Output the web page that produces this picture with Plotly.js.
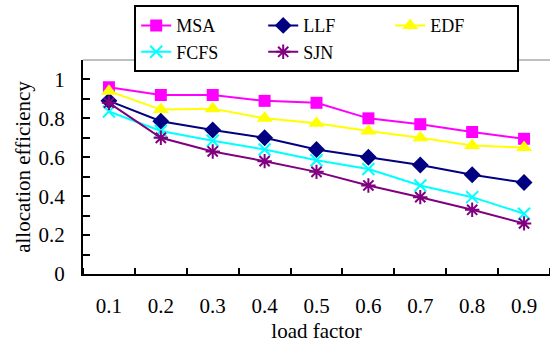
<!DOCTYPE html>
<html>
<head>
<meta charset="utf-8">
<script src="https://cdn.plot.ly/plotly-3.0.1.min.js"></script>
<style>html,body{margin:0;padding:0;background:#fff;}#chart{width:550px;height:347px;}</style>
</head>
<body>
<div id="chart"></div>
<script>
var loadFactor = [0.1, 0.2, 0.3, 0.4, 0.5, 0.6, 0.7, 0.8, 0.9];
var xTickText = ["0.1", "0.2", "0.3", "0.4", "0.5", "0.6", "0.7", "0.8", "0.9"];
var msa  = [0.96, 0.92, 0.92, 0.89, 0.88, 0.80, 0.77, 0.73, 0.695];
var llf  = [0.89, 0.785, 0.74, 0.70, 0.64, 0.60, 0.56, 0.51, 0.47];
var edf  = [0.94, 0.845, 0.85, 0.80, 0.775, 0.735, 0.70, 0.66, 0.65];
var fcfs = [0.835, 0.735, 0.685, 0.64, 0.585, 0.54, 0.455, 0.395, 0.31];
var sjn  = [0.88, 0.70, 0.63, 0.58, 0.525, 0.455, 0.395, 0.33, 0.26];
var yTickVals = [0, 0.2, 0.4, 0.6, 0.8, 1];
var yTickText = ["0", "0.2", "0.4", "0.6", "0.8", "1"];

var FAMILY = "Times New Roman, Liberation Serif, DejaVu Serif, serif";
var font = {family: FAMILY, size: 21, color: "#000"};
var titleFont = {family: FAMILY, size: 21, color: "#000"};

function tr(name, y, color, symbol, size, lw) {
  return {
    x: loadFactor, y: y, name: name, type: "scatter", mode: "lines+markers",
    line: {color: color, width: 2},
    marker: {color: color, symbol: symbol, size: size, line: {color: color, width: lw || 0}}
  };
}

var data = [
  tr("MSA", msa, "#FF00FF", "square", 12),
  tr("LLF", llf, "#000080", "diamond", 13),
  tr("EDF", edf, "#FFFF00", "triangle-up", 14),
  tr("FCFS", fcfs, "#00FFFF", "x-thin-open", 12, 2),
  tr("SJN", sjn, "#800080", "asterisk-open", 12, 2)
];
var layout = {
  width: 550, height: 347,
  margin: {l: 83, r: 0, t: 60, b: 73, autoexpand: false},
  paper_bgcolor: "#fff", plot_bgcolor: "#fff",
  font: font,
  showlegend: true,
  legend: {
    orientation: "h", xref: "container", yref: "container",
    x: 0.244, y: 0.985, xanchor: "left", yanchor: "top",
    bordercolor: "#000", borderwidth: 2, bgcolor: "#fff",
    entrywidth: 82, entrywidthmode: "pixels",
    font: {family: FAMILY, size: 18, color: "#000"},
    tracegroupgap: 0
  },
  xaxis: {
    range: [0.05, 0.95], tickmode: "array", tickvals: loadFactor, ticktext: xTickText,
    ticks: "", showgrid: false, zeroline: false,
    showline: true, linecolor: "#000", linewidth: 2,
    ticklabelstandoff: 12,
    tickfont: font,
    minor: {tick0: 0.05, dtick: 0.1, ticks: "inside", ticklen: 6, tickwidth: 2, tickcolor: "#000", showgrid: false},
    title: {text: "load factor", font: titleFont, standoff: 6}
  },
  yaxis: {
    range: [0, 1.1], tickmode: "array", tickvals: yTickVals, ticktext: yTickText,
    ticks: "inside", ticklen: 7, tickwidth: 2, tickcolor: "#000",
    showgrid: false, zeroline: false,
    showline: true, linecolor: "#000", linewidth: 2,
    ticklabelstandoff: 12,
    tickfont: font,
    minor: {tick0: 0, dtick: 0.1, ticks: "inside", ticklen: 7, tickwidth: 2, tickcolor: "#000", showgrid: false},
    title: {text: "allocation efficiency", font: titleFont, standoff: 2}
  },
  shapes: [
    {type: "line", xref: "paper", yref: "paper", x0: 0, x1: 1, y0: 1, y1: 1, line: {color: "#c0c0c0", width: 2}}
  ]
};
Plotly.newPlot("chart", data, layout, {displayModeBar: false, staticPlot: true});
</script>
</body>
</html>
